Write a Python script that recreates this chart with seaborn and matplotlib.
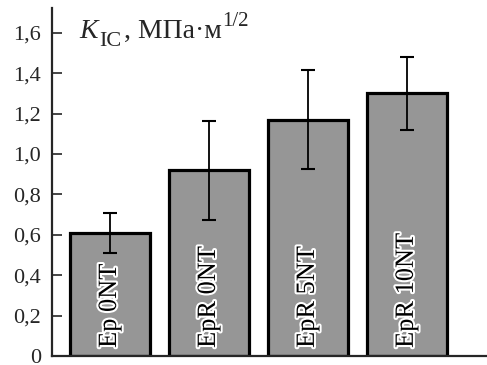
import matplotlib
matplotlib.use("Agg")
import matplotlib.pyplot as plt
import matplotlib.patheffects as pe
import matplotlib.transforms as mtransforms
import seaborn as sns
import numpy as np

# значения K_IC
samples = ["Ep 0NT", "EpR 0NT", "EpR 5NT", "EpR 10NT"]
k_ic = [0.61, 0.92, 1.17, 1.30]
k_err = [0.10, 0.245, 0.245, 0.18]
y_ticks = [0, 0.2, 0.4, 0.6, 0.8, 1.0, 1.2, 1.4, 1.6]
y_tick_labels = ["0", "0,2", "0,4", "0,6", "0,8", "1,0", "1,2", "1,4", "1,6"]

sns.set_style("ticks")
plt.rcParams["font.family"] = ["Liberation Serif", "DejaVu Serif"]

fig = plt.figure(figsize=(4.87, 3.65), dpi=100)
ax = fig.add_axes([52 / 487, 9 / 365, 1 - 52 / 487, 348 / 365])

sns.barplot(x=samples, y=k_ic, color="#969696", edgecolor="black",
            linewidth=2.3, width=0.81, saturation=1, ax=ax)
ax.errorbar(np.arange(len(samples)), k_ic, yerr=k_err, fmt="none",
            ecolor="black", elinewidth=1.3, capsize=4.8, capthick=1.5)

for i, name in enumerate(samples):
    ax.text(i, 0.04, name, rotation=90, ha="center", va="bottom",
            fontsize=19, color="black",
            path_effects=[pe.withStroke(linewidth=3, foreground="white")])

ax.set_xlim(-0.586, 3.81)
ax.set_ylim(0, 1.723)
ax.set_yticks(y_ticks)
ax.set_yticklabels(y_tick_labels, fontsize=16)
ax.set_xticks([])
ax.tick_params(axis="y", direction="in", length=7.5, width=1.2, pad=8)
for s in ["top", "right"]:
    ax.spines[s].set_visible(False)
ax.spines["left"].set_linewidth(1.6)
ax.spines["bottom"].set_linewidth(1.6)

# подпись оси: K_IC, МПа·м^1/2 — собирается из кусков
pieces = [("K", 20, "italic", 0), ("IC", 16, "normal", -7.5),
          (", МПа·м", 20, "normal", 0), ("1/2", 15, "normal", 11.5)]
fig.canvas.draw()
renderer = fig.canvas.get_renderer()
x_px = 79
base_px = 365 - 38
for txt, size, style, dy in pieces:
    tr = mtransforms.IdentityTransform()
    t = fig.text(x_px, base_px + dy, txt, fontsize=size, fontstyle=style,
                 ha="left", va="baseline", transform=tr)
    x_px = t.get_window_extent(renderer).x1 + (2 if txt in ("K", "IC") else 1)

fig.savefig("out.png", dpi=100)
